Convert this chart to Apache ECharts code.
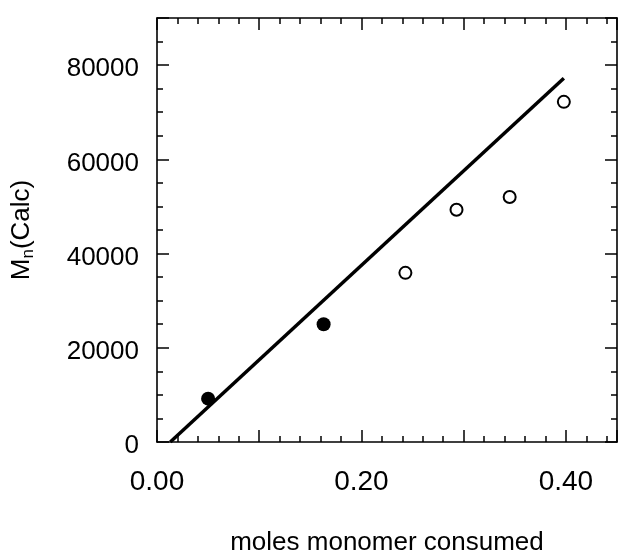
<!DOCTYPE html>
<html>
<head>
<meta charset="utf-8">
<script src="https://cdn.jsdelivr.net/npm/echarts@6/dist/echarts.min.js"></script>
<style>
  html, body { margin: 0; padding: 0; background: #fff; }
  #main { width: 618px; height: 554px; }
</style>
</head>
<body>
<div id="main"></div>
<script>
// data
var filledPts = [[0.050, 9200], [0.163, 25000]];
var openPts = [[0.243, 35900], [0.293, 49300], [0.345, 52000], [0.398, 72200]];
var fitLine = [[0.013, 0], [0.398, 77200]];

var font = 'Liberation Sans, Arial, sans-serif';
var ink = '#000';

function xAx(pos, step, len, showLine, showLabel) {
  return {
    type: 'value', position: pos, min: 0, max: 0.45, interval: step,
    axisLine: { show: showLine, onZero: false, lineStyle: { color: ink, width: 1.6 } },
    axisTick: { show: true, inside: true, length: len, lineStyle: { color: ink, width: 1.5 } },
    splitLine: { show: false },
    axisLabel: {
      show: showLabel, margin: 26, color: ink, fontSize: 28, fontFamily: font,
      formatter: function (v) {
        var k = Math.round(v * 100);
        return k % 20 === 0 ? v.toFixed(2) : '';
      }
    }
  };
}

function yAx(pos, step, len, showLine, showLabel) {
  return {
    type: 'value', position: pos, min: 0, max: 90000, interval: step,
    axisLine: { show: showLine, onZero: false, lineStyle: { color: ink, width: 1.6 } },
    axisTick: { show: true, inside: true, length: len, lineStyle: { color: ink, width: 1.5 } },
    splitLine: { show: false },
    axisLabel: {
      show: showLabel, margin: 18, color: ink, fontSize: 26, fontFamily: font,
      formatter: function (v) {
        return v % 20000 === 0 ? '{p|' + v + '}' : '';
      },
      rich: { p: { fontSize: 26, fontFamily: font, color: ink, padding: [8, 0, 0, 0] } }
    }
  };
}

var xMain = xAx('bottom', 0.1, 12, true, true);
xMain.name = 'moles monomer consumed';
xMain.nameLocation = 'middle';
xMain.nameGap = 88;
xMain.nameTextStyle = { color: ink, fontSize: 26, fontFamily: font };

var yMain = yAx('left', 20000, 12, true, true);
yMain.name = '{a|M}{b|n}{a|(Calc)}';
yMain.nameLocation = 'middle';
yMain.nameRotate = 90;
yMain.nameGap = 120;
yMain.nameTextStyle = {
  color: ink, fontFamily: font,
  rich: {
    a: { fontSize: 26, color: ink, fontFamily: font },
    b: { fontSize: 17, color: ink, fontFamily: font, padding: [14, 0, 0, 0], verticalAlign: 'bottom' }
  }
};

var myChart = echarts.init(document.getElementById('main'), null, { renderer: 'canvas' });
myChart.setOption({
  animation: false,
  backgroundColor: '#fff',
  grid: { left: 157, top: 18, right: 1, bottom: 112, containLabel: false, outerBoundsMode: 'none' },
  xAxis: [
    xMain,
    xAx('bottom', 0.02, 6, false, false),
    xAx('top', 0.1, 12, true, false),
    xAx('top', 0.02, 6, false, false)
  ],
  yAxis: [
    yMain,
    yAx('left', 5000, 6, false, false),
    yAx('right', 20000, 12, true, false),
    yAx('right', 5000, 6, false, false)
  ],
  series: [
    {
      name: 'fit', type: 'line', data: fitLine, symbol: 'none',
      lineStyle: { color: ink, width: 3.5 }, z: 2
    },
    {
      name: 'filled', type: 'scatter', data: filledPts, symbol: 'circle', symbolSize: 14,
      itemStyle: { color: ink, opacity: 1 }, z: 3
    },
    {
      name: 'open', type: 'scatter', data: openPts, symbol: 'circle', symbolSize: 12,
      itemStyle: { color: '#fff', borderColor: ink, borderWidth: 2, opacity: 1 }, z: 3
    }
  ]
});
</script>
</body>
</html>
